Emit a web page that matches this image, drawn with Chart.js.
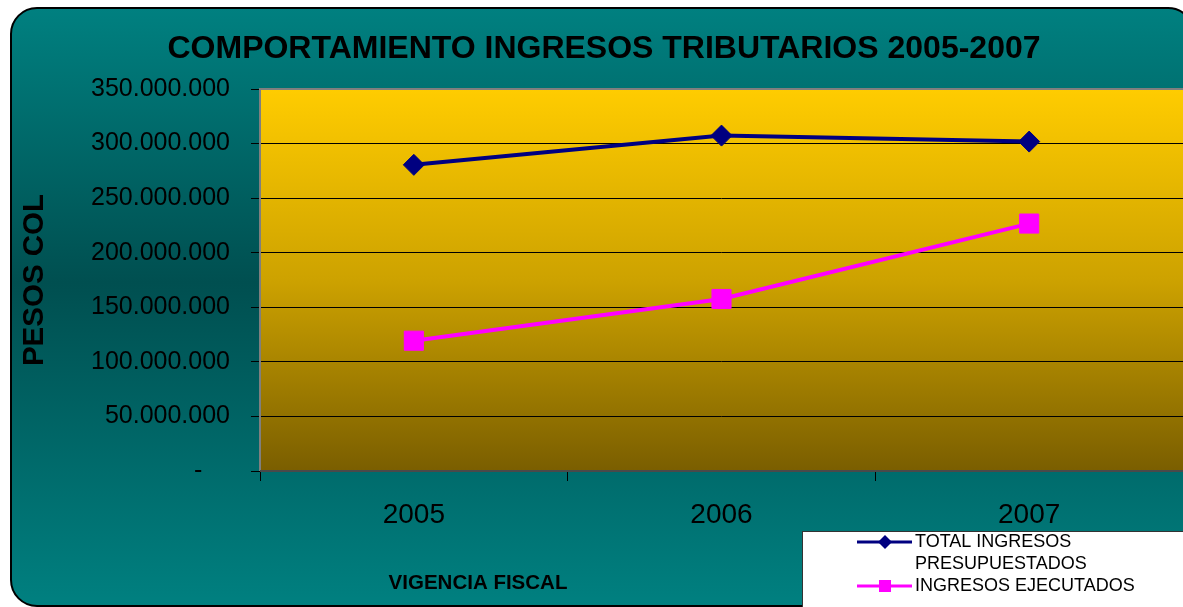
<!DOCTYPE html>
<html>
<head>
<meta charset="utf-8">
<script src="https://cdn.jsdelivr.net/npm/chart.js@4.4.1/dist/chart.umd.min.js"></script>
<style>
  html, body { margin: 0; padding: 0; background: #fff; overflow: hidden; }
  #stage { position: absolute; left: 0; top: 0; width: 1183px; height: 607px; overflow: hidden; }
  #frame {
    position: absolute; left: 10px; top: 7px; width: 1185px; height: 600px;
    box-sizing: border-box; border: 2px solid #000; border-radius: 27px;
    background: linear-gradient(#008080 0%, #004f50 46%, #008080 100%);
  }
  #chart { position: absolute; left: 0; top: 0; }
</style>
</head>
<body>
<div id="stage">
  <div id="frame"></div>
  <canvas id="chart" width="1183" height="607"></canvas>
</div>
<script>
const years = ["2005", "2006", "2007"];
const presupuestados = [280500000, 307300000, 301800000];
const ejecutados = [119400000, 157600000, 226700000];
const seriesNames = [["TOTAL INGRESOS", "PRESUPUESTADOS"], ["INGRESOS EJECUTADOS"]];
const chartTitle = "COMPORTAMIENTO INGRESOS TRIBUTARIOS 2005-2007";
const yTitle = "PESOS COL";
const xTitle = "VIGENCIA FISCAL";
const yMax = 350000000;
const yStep = 50000000;

const FONT = "'Liberation Sans', Arial, sans-serif";

function formatPesos(value) {
  if (value === 0) return "-    ";
  return String(value).replace(/\B(?=(\d{3})+(?!\d))/g, ".");
}

// plot area fill + grey frame round it
const plotBackground = {
  id: "plotBackground",
  beforeDraw(chart) {
    const { ctx, chartArea: a } = chart;
    const g = ctx.createLinearGradient(0, a.top, 0, a.bottom);
    g.addColorStop(0, "#ffcc00");
    g.addColorStop(0.5, "#cda200");
    g.addColorStop(1, "#7a5e00");
    ctx.save();
    ctx.fillStyle = g;
    ctx.fillRect(a.left, a.top, a.right - a.left + 2, a.bottom - a.top);
    ctx.restore();
  },
  beforeDatasetsDraw(chart) {
    const { ctx, chartArea: a } = chart;
    ctx.save();
    ctx.strokeStyle = "#7f7f7f";
    ctx.lineWidth = 2;
    ctx.beginPath();
    ctx.moveTo(a.left, a.bottom);
    ctx.lineTo(a.left, a.top);
    ctx.lineTo(a.right + 2, a.top);
    ctx.stroke();
    ctx.strokeStyle = "#4a4a4a";
    ctx.beginPath();
    ctx.moveTo(a.left, a.bottom);
    ctx.lineTo(a.right + 2, a.bottom);
    ctx.stroke();
    ctx.restore();
  }
};

// titles that sit off-centre in the original
const captions = {
  id: "captions",
  afterDraw(chart) {
    const { ctx } = chart;
    ctx.save();
    ctx.fillStyle = "#000";
    ctx.textAlign = "center";
    ctx.textBaseline = "middle";
    ctx.font = "bold 32px " + FONT;
    ctx.fillText(chartTitle, 604, 49);
    ctx.font = "bold 20.5px " + FONT;
    ctx.fillText(xTitle, 478, 583);
    ctx.restore();
  }
};

function drawMarker(ctx, style, x, y, r) {
  ctx.beginPath();
  if (style === "rectRot") {
    ctx.moveTo(x, y - r);
    ctx.lineTo(x + r, y);
    ctx.lineTo(x, y + r);
    ctx.lineTo(x - r, y);
  } else {
    ctx.rect(x - r, y - r, r * 2, r * 2);
  }
  ctx.closePath();
  ctx.fill();
}

// white legend box at the bottom right
const boxLegend = {
  id: "boxLegend",
  afterDraw(chart) {
    const { ctx } = chart;
    ctx.save();
    ctx.fillStyle = "#fff";
    ctx.strokeStyle = "#333";
    ctx.lineWidth = 1;
    ctx.fillRect(802, 531, 400, 100);
    ctx.strokeRect(802.5, 531.5, 400, 100);

    ctx.font = "18px " + FONT;
    ctx.textBaseline = "middle";
    ctx.textAlign = "left";
    let line = 0;
    chart.data.datasets.forEach((ds, i) => {
      const y = 542 + line * 22;
      ctx.strokeStyle = ds.borderColor;
      ctx.lineWidth = 3;
      ctx.beginPath();
      ctx.moveTo(857, y);
      ctx.lineTo(912, y);
      ctx.stroke();
      ctx.fillStyle = ds.pointBackgroundColor;
      drawMarker(ctx, ds.pointStyle, 885, y, ds.pointStyle === "rectRot" ? 7 : 6);
      ctx.fillStyle = "#000";
      seriesNames[i].forEach((txt, k) => ctx.fillText(txt, 915, y + k * 22));
      line += seriesNames[i].length;
    });
    ctx.restore();
  }
};

new Chart(document.getElementById("chart"), {
  type: "line",
  data: {
    labels: years,
    datasets: [
      {
        label: seriesNames[0].join(" "),
        data: presupuestados,
        borderColor: "#000080",
        backgroundColor: "#000080",
        pointBackgroundColor: "#000080",
        pointBorderColor: "#000080",
        pointStyle: "rectRot",
        pointRadius: 10.5,
        pointBorderWidth: 1,
        borderWidth: 4,
        tension: 0
      },
      {
        label: seriesNames[1].join(" "),
        data: ejecutados,
        borderColor: "#ff00ff",
        backgroundColor: "#ff00ff",
        pointBackgroundColor: "#ff00ff",
        pointBorderColor: "#ff00ff",
        pointStyle: "rect",
        pointRadius: 13.5,
        pointBorderWidth: 1,
        borderWidth: 4,
        tension: 0
      }
    ]
  },
  options: {
    responsive: false,
    animation: false,
    layout: {
      autoPadding: false,
      padding: { top: 89, left: 12, right: 0, bottom: 0 }
    },
    plugins: {
      legend: { display: false },
      title: { display: false },
      tooltip: { enabled: false }
    },
    scales: {
      x: {
        offset: true,
        afterFit(scale) { scale.height = 136; },
        grid: {
          offset: true,
          drawOnChartArea: false,
          drawTicks: true,
          tickLength: 10,
          color: "#000"
        },
        border: { display: false },
        ticks: {
          color: "#000",
          padding: 17,
          font: { family: FONT, size: 28 }
        }
      },
      y: {
        min: 0,
        max: yMax,
        afterFit(scale) { scale.width = 248; },
        grid: {
          color: "#000",
          lineWidth: 1,
          tickLength: 9
        },
        border: { display: false },
        ticks: {
          stepSize: yStep,
          color: "#000",
          padding: 21,
          font: { family: FONT, size: 25 },
          callback: (v) => formatPesos(v)
        },
        title: {
          display: true,
          text: yTitle,
          color: "#000",
          padding: { top: 5, bottom: 0 },
          font: { family: FONT, size: 29.5, weight: "bold" }
        }
      }
    }
  },
  plugins: [plotBackground, captions, boxLegend]
});
</script>
</body>
</html>
